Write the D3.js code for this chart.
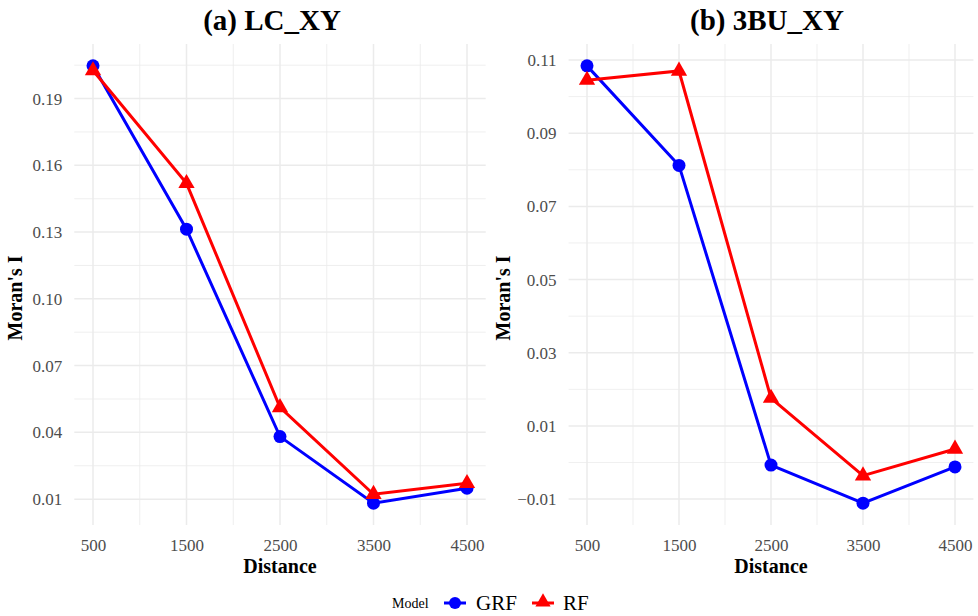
<!DOCTYPE html>
<html>
<head>
<meta charset="utf-8">
<script src="https://cdn.jsdelivr.net/npm/d3@7"></script>
<style>
  body { margin: 0; background: #fff; }
  text { font-family: "Liberation Serif", "Times New Roman", serif; }
</style>
</head>
<body>
<div id="wrapper"></div>
<script>
// distances shared by both panels
var distances = [500, 1500, 2500, 3500, 4500]

// (a) LC_XY
var lcGRF = [0.2047, 0.1313, 0.0381, 0.0082, 0.0149]
var lcRF = [0.2026, 0.1519, 0.0512, 0.0122, 0.0171]
var lcTicks = [0.01, 0.04, 0.07, 0.10, 0.13, 0.16, 0.19]

// (b) 3BU_XY
var buGRF = [0.1084, 0.0812, -0.0007, -0.0111, -0.0012]
var buRF = [0.1045, 0.1070, 0.0176, -0.0036, 0.0037]
var buTicks = [-0.01, 0.01, 0.03, 0.05, 0.07, 0.09, 0.11]

var models = ["GRF", "RF"]
var colorScale = d3.scaleOrdinal().domain(models).range(["#0000ff", "#ff0000"])

var width = 978, height = 616

const svg = d3.select("#wrapper")
    .append("svg")
    .attr("width", width)
    .attr("height", height)

function drawPanel(opts) {
    var x = d3.scaleLinear()
        .domain([300, 4700])
        .range([opts.left, opts.right])

    var all = opts.grf.concat(opts.rf)
    var lo = d3.min(all), hi = d3.max(all)
    var pad = (hi - lo) * 0.05
    var y = d3.scaleLinear()
        .domain([lo - pad, hi + pad])
        .range([525, 44])

    var g = svg.append("g")

    // minor grid
    var step = opts.ticks[1] - opts.ticks[0]
    var yMinor = []
    for (var i = -1; i < opts.ticks.length; i++) {
        var v = opts.ticks[0] + step * (i + 0.5)
        if (v >= y.domain()[0] && v <= y.domain()[1]) yMinor.push(v)
    }
    var xMinor = [1000, 2000, 3000, 4000]

    g.selectAll(".ymin").data(yMinor).enter().append("line")
        .attr("x1", opts.left).attr("x2", opts.right)
        .attr("y1", d => y(d)).attr("y2", d => y(d))
        .style("stroke", "#ebebeb").style("stroke-width", 0.8)
    g.selectAll(".xmin").data(xMinor).enter().append("line")
        .attr("x1", d => x(d)).attr("x2", d => x(d))
        .attr("y1", 44).attr("y2", 525)
        .style("stroke", "#ebebeb").style("stroke-width", 0.8)
    g.selectAll(".ymaj").data(opts.ticks).enter().append("line")
        .attr("x1", opts.left).attr("x2", opts.right)
        .attr("y1", d => y(d)).attr("y2", d => y(d))
        .style("stroke", "#ebebeb").style("stroke-width", 1.5)
    g.selectAll(".xmaj").data(distances).enter().append("line")
        .attr("x1", d => x(d)).attr("x2", d => x(d))
        .attr("y1", 44).attr("y2", 525)
        .style("stroke", "#ebebeb").style("stroke-width", 1.5)

    // axes (ticks/labels only)
    var yAxis = g.append("g")
        .attr("transform", `translate(${opts.left - 9},0)`)
        .call(d3.axisLeft(y).tickValues(opts.ticks).tickSize(0).tickFormat(d3.format(".2f")))
    yAxis.select(".domain").remove()
    yAxis.selectAll("text")
        .style("font-family", "Liberation Serif, serif")
        .style("font-size", "17px")
        .style("fill", "#4d4d4d")

    var xAxis = g.append("g")
        .attr("transform", `translate(0,${536})`)
        .call(d3.axisBottom(x).tickValues(distances).tickSize(0).tickFormat(d3.format("d")))
    xAxis.select(".domain").remove()
    xAxis.selectAll("text")
        .style("font-family", "Liberation Serif, serif")
        .style("font-size", "17px")
        .style("fill", "#4d4d4d")

    // titles
    g.append("text")
        .attr("x", opts.titleX).attr("y", 30)
        .attr("text-anchor", "middle")
        .style("font-size", "29px").style("font-weight", "bold")
        .text(opts.title)
    g.append("text")
        .attr("x", (opts.left + opts.right) / 2).attr("y", 573)
        .attr("text-anchor", "middle")
        .style("font-size", "20px").style("font-weight", "bold")
        .text("Distance")
    g.append("text")
        .attr("transform", `translate(${opts.ylabX},298) rotate(-90)`)
        .attr("text-anchor", "middle")
        .style("font-size", "20px").style("font-weight", "bold")
        .text("Moran's I")

    // series
    var series = [
        {model: "GRF", values: opts.grf},
        {model: "RF", values: opts.rf}
    ]
    var line = d3.line()
        .x((d, i) => x(distances[i]))
        .y(d => y(d))

    g.selectAll(".series").data(series).enter().append("path")
        .attr("d", d => line(d.values))
        .style("fill", "none")
        .style("stroke", d => colorScale(d.model))
        .style("stroke-width", 3)

    g.selectAll(".grfpt").data(opts.grf).enter().append("circle")
        .attr("cx", (d, i) => x(distances[i]))
        .attr("cy", d => y(d))
        .attr("r", 6.5)
        .style("fill", colorScale("GRF"))

    var tri = d3.symbol().type(d3.symbolTriangle).size(115)
    g.selectAll(".rfpt").data(opts.rf).enter().append("path")
        .attr("d", tri)
        .attr("transform", (d, i) => `translate(${x(distances[i])},${y(d)})`)
        .style("fill", colorScale("RF"))
}

drawPanel({title: "(a) LC_XY", titleX: 272, ylabX: 22, left: 74.3, right: 485.7,
    grf: lcGRF, rf: lcRF, ticks: lcTicks})
drawPanel({title: "(b) 3BU_XY", titleX: 767, ylabX: 510, left: 568.6, right: 973.4,
    grf: buGRF, rf: buRF, ticks: buTicks})

// legend
const legend = svg.append("g")
legend.append("text")
    .attr("x", 392).attr("y", 608)
    .style("font-size", "14px")
    .text("Model")

var keyX = [455, 543]
var labX = [476, 563]
models.forEach((m, i) => {
    legend.append("line")
        .attr("x1", keyX[i] - 11).attr("x2", keyX[i] + 11)
        .attr("y1", 603).attr("y2", 603)
        .style("stroke", colorScale(m)).style("stroke-width", 3)
    if (m == "GRF") {
        legend.append("circle")
            .attr("cx", keyX[i]).attr("cy", 603).attr("r", 6)
            .style("fill", colorScale(m))
    } else {
        legend.append("path")
            .attr("d", d3.symbol().type(d3.symbolTriangle).size(100))
            .attr("transform", `translate(${keyX[i]},602)`)
            .style("fill", colorScale(m))
    }
    legend.append("text")
        .attr("x", labX[i]).attr("y", 610)
        .style("font-size", "21px")
        .text(m)
})
</script>
</body>
</html>
